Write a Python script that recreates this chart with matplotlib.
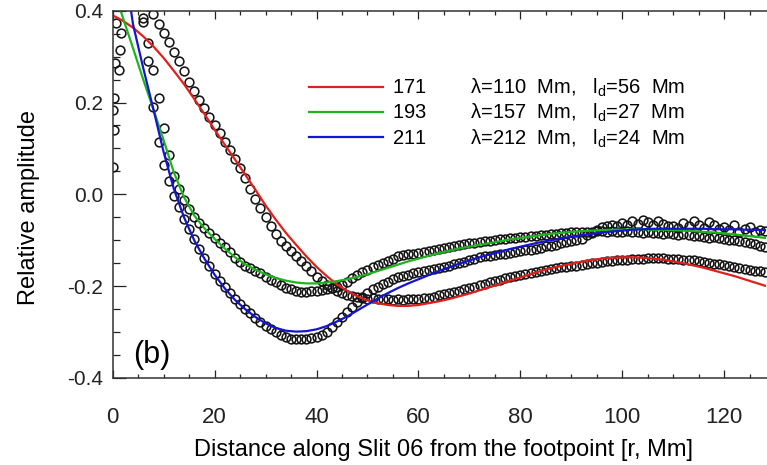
import numpy as np
import matplotlib
matplotlib.use('Agg')
import matplotlib.pyplot as plt
from matplotlib.ticker import MultipleLocator, FormatStrFormatter

plt.rcParams['font.family'] = ['Liberation Sans', 'DejaVu Sans']
plt.rcParams['axes.unicode_minus'] = False
plt.rcParams['mathtext.fontset'] = 'custom'
plt.rcParams['mathtext.rm'] = 'Liberation Sans'

nan = np.nan

# fitted profiles, read every 2 Mm
r_fit = np.arange(0, 129, 2)
fit171 = [0.390, 0.378, 0.363, 0.344, 0.322, 0.297, 0.269, 0.240, 0.208, 0.175,
          0.141, 0.108, 0.076, 0.043, 0.010, -0.024, -0.055, -0.084, -0.110, -0.135,
          -0.158, -0.178, -0.196, -0.210, -0.222, -0.231, -0.237, -0.241, -0.243, -0.243,
          -0.241, -0.237, -0.233, -0.228, -0.222, -0.216, -0.209, -0.202, -0.195, -0.188,
          -0.181, -0.174, -0.167, -0.161, -0.156, -0.151, -0.147, -0.143, -0.140, -0.138,
          -0.137, -0.137, -0.138, -0.140, -0.142, -0.146, -0.150, -0.155, -0.160, -0.166,
          -0.172, -0.178, -0.185, -0.192, -0.199]
fit193 = [0.455, 0.385, 0.318, 0.250, 0.185, 0.118, 0.048, -0.006, -0.046, -0.074,
          -0.097, -0.118, -0.137, -0.152, -0.164, -0.174, -0.182, -0.188, -0.192, -0.194,
          -0.194, -0.192, -0.189, -0.185, -0.180, -0.174, -0.167, -0.160, -0.153, -0.146,
          -0.140, -0.134, -0.128, -0.123, -0.118, -0.114, -0.110, -0.106, -0.102, -0.098,
          -0.095, -0.092, -0.089, -0.086, -0.084, -0.082, -0.080, -0.079, -0.078, -0.077,
          -0.077, -0.076, -0.076, -0.077, -0.077, -0.078, -0.079, -0.080, -0.082, -0.083,
          -0.085, -0.087, -0.090, -0.092, -0.095]
fit211 = [0.620, 0.520, 0.370, 0.275, 0.185, 0.092, 0.012, -0.050, -0.100, -0.140,
          -0.175, -0.205, -0.230, -0.250, -0.267, -0.281, -0.291, -0.297, -0.299, -0.298,
          -0.294, -0.287, -0.277, -0.266, -0.253, -0.240, -0.227, -0.215, -0.204, -0.194,
          -0.185, -0.176, -0.167, -0.159, -0.151, -0.144, -0.137, -0.131, -0.125, -0.119,
          -0.114, -0.109, -0.104, -0.100, -0.096, -0.092, -0.089, -0.086, -0.083, -0.081,
          -0.079, -0.077, -0.076, -0.075, -0.075, -0.075, -0.075, -0.075, -0.075, -0.076,
          -0.076, -0.076, -0.077, -0.077, -0.078]

# observed amplitudes, every 1 Mm (nan = above the plot)
r_obs = np.arange(0, 129, 1)
obs171 = [nan, nan, nan, nan, nan, nan, nan, 0.410, 0.392, 0.370,
          0.352, 0.332, 0.311, 0.290, 0.268, 0.245, 0.225, 0.206, 0.187, 0.169,
          0.151, 0.133, 0.115, 0.097, 0.078, 0.058, 0.035, 0.012, -0.010, -0.030,
          -0.050, -0.069, -0.086, -0.101, -0.113, -0.124, -0.135, -0.146, -0.157, -0.168,
          -0.179, -0.189, -0.197, -0.204, -0.210, -0.215, -0.219, -0.222, -0.224, -0.225,
          -0.227, -0.226, -0.228, -0.229, -0.228, -0.230, -0.229, -0.230, -0.229, -0.228,
          -0.228, -0.226, -0.225, -0.223, -0.220, -0.218, -0.215, -0.212, -0.210, -0.207,
          -0.204, -0.201, -0.198, -0.195, -0.192, -0.189, -0.186, -0.183, -0.180, -0.178,
          -0.176, -0.173, -0.171, -0.169, -0.167, -0.165, -0.163, -0.161, -0.159, -0.158,
          -0.156, -0.155, -0.153, -0.152, -0.150, -0.149, -0.147, -0.146, -0.145, -0.144,
          -0.143, -0.142, -0.141, -0.140, -0.140, -0.139, -0.139, -0.139, -0.139, -0.140,
          -0.140, -0.141, -0.142, -0.143, -0.144, -0.146, -0.147, -0.149, -0.151, -0.152,
          -0.154, -0.156, -0.158, -0.160, -0.162, -0.164, -0.166, -0.168, -0.170]
obs193 = [nan, nan, nan, nan, nan, 0.430, 0.385, 0.330, 0.270, 0.210,
          0.145, 0.085, 0.040, 0.012, -0.012, -0.033, -0.050, -0.063, -0.074, -0.085,
          -0.096, -0.107, -0.114, -0.125, -0.139, -0.148, -0.155, -0.161, -0.166, -0.172,
          -0.180, -0.186, -0.192, -0.198, -0.203, -0.207, -0.210, -0.212, -0.212, -0.211,
          -0.210, -0.209, -0.207, -0.205, -0.202, -0.197, -0.190, -0.183, -0.176, -0.170,
          -0.164, -0.159, -0.154, -0.150, -0.145, -0.140, -0.135, -0.133, -0.131, -0.129,
          -0.127, -0.125, -0.123, -0.121, -0.119, -0.117, -0.115, -0.113, -0.111, -0.109,
          -0.107, -0.105, -0.104, -0.102, -0.101, -0.099, -0.098, -0.097, -0.096, -0.094,
          -0.093, -0.092, -0.091, -0.090, -0.089, -0.088, -0.087, -0.086, -0.085, -0.084,
          -0.083, -0.082, -0.082, -0.081, -0.081, -0.080, -0.080, -0.081, -0.079, -0.081,
          -0.082, -0.080, -0.083, -0.082, -0.084, -0.083, -0.085, -0.084, -0.086, -0.085,
          -0.087, -0.088, -0.087, -0.089, -0.090, -0.091, -0.092, -0.094, -0.093, -0.096,
          -0.097, -0.099, -0.100, -0.102, -0.104, -0.107, -0.109, -0.112, -0.115]
obs211 = [nan, nan, nan, nan, nan, 0.450, 0.375, 0.290, 0.190, 0.115,
          0.065, 0.028, -0.003, -0.028, -0.053, -0.076, -0.098, -0.119, -0.138, -0.156,
          -0.173, -0.188, -0.202, -0.215, -0.227, -0.238, -0.249, -0.259, -0.269, -0.278,
          -0.286, -0.293, -0.300, -0.306, -0.311, -0.315, -0.316, -0.315, -0.315, -0.313,
          -0.311, -0.306, -0.299, -0.290, -0.279, -0.267, -0.256, -0.245, -0.235, -0.224,
          -0.214, -0.207, -0.201, -0.196, -0.190, -0.184, -0.180, -0.178, -0.175, -0.172,
          -0.170, -0.167, -0.165, -0.162, -0.160, -0.158, -0.155, -0.152, -0.149, -0.147,
          -0.143, -0.140, -0.137, -0.135, -0.134, -0.133, -0.130, -0.129, -0.127, -0.125,
          -0.123, -0.122, -0.121, -0.119, -0.116, -0.113, -0.112, -0.110, -0.107, -0.103,
          -0.101, -0.100, -0.097, -0.089, -0.085, -0.078, -0.072, -0.069, -0.066, -0.070,
          -0.062, -0.066, -0.058, -0.064, -0.056, -0.061, -0.067, -0.057, -0.064, -0.070,
          -0.068, -0.074, -0.062, -0.070, -0.059, -0.067, -0.073, -0.061, -0.066, -0.075,
          -0.072, -0.078, -0.066, -0.081, -0.076, -0.071, -0.083, -0.077, -0.080]

# a few samples right at the footpoint
foot_r = [0.0, 0.0, 0.2, 0.3, 0.4, 0.6, 1.2, 1.5, 1.6]
foot_amp = [0.060, 0.183, 0.140, 0.209, 0.286, 0.373, 0.270, 0.314, 0.351]

bands = ['171', '193', '211']
wavelength = [110, 157, 212]
damping = [56, 27, 24]
colors = ['#e0201c', '#1fb41f', '#1414d2']

fig = plt.figure(figsize=(7.67, 4.65), dpi=100)
ax = fig.add_axes([0.1469, 0.1871, 0.8531, 0.7899])

circ = dict(ls='none', marker='o', mfc='none', mec='#151515', ms=6.3, mew=1.15)
for obs in [obs171, obs193, obs211]:
    ax.plot(r_obs, obs, **circ)
ax.plot(foot_r, foot_amp, **circ)

lines = []
for fit, band, lam, ld, c in zip([fit171, fit193, fit211], bands, wavelength, damping, colors):
    lab = band + '        \u03bb=' + str(lam) + '  Mm,   l$_\\mathregular{d}$=' + str(ld) + '  Mm'
    ln, = ax.plot(r_fit, fit, color=c, lw=1.6, solid_joinstyle='round', label=lab)
    lines.append(ln)

ax.legend(handles=lines, loc='upper left', bbox_to_anchor=(0.2997, 0.82),
          frameon=False, fontsize=14.5, handlelength=3.7, handletextpad=0.42,
          labelspacing=0.15, borderpad=0, borderaxespad=0)

ax.text(0.031, 0.041, '(b)', transform=ax.transAxes, fontsize=22,
        ha='left', va='baseline')

ax.set_xlim(0, 128.4)
ax.set_ylim(-0.4, 0.4)
ax.xaxis.set_major_locator(MultipleLocator(20))
ax.xaxis.set_minor_locator(MultipleLocator(5))
ax.yaxis.set_major_locator(MultipleLocator(0.2))
ax.yaxis.set_minor_locator(MultipleLocator(0.05))
ax.yaxis.set_major_formatter(FormatStrFormatter('%.1f'))

ax.tick_params(axis='x', which='major', direction='in', top=True, length=5.8,
               width=0.9, labelsize=16, pad=21, colors='#222222')
ax.tick_params(axis='x', which='minor', direction='in', top=True, length=3,
               width=0.9, colors='#222222')
ax.tick_params(axis='y', which='major', direction='in', right=False, length=9.5,
               width=0.9, labelsize=15, pad=7, colors='#222222')
ax.tick_params(axis='y', which='minor', direction='in', right=False, length=5,
               width=0.9, colors='#222222')

ax.spines['right'].set_visible(False)
for s in ['left', 'bottom', 'top']:
    ax.spines[s].set_linewidth(1.1)
    ax.spines[s].set_color('#333333')

ax.set_xlabel('Distance along Slit 06 from the footpoint [r, Mm]', fontsize=17)
ax.xaxis.set_label_coords(0.5056, -0.166)
ax.set_ylabel('Relative amplitude', fontsize=17)
ax.yaxis.set_label_coords(-0.1115, 0.463)

fig.savefig('out.png', dpi=100)
